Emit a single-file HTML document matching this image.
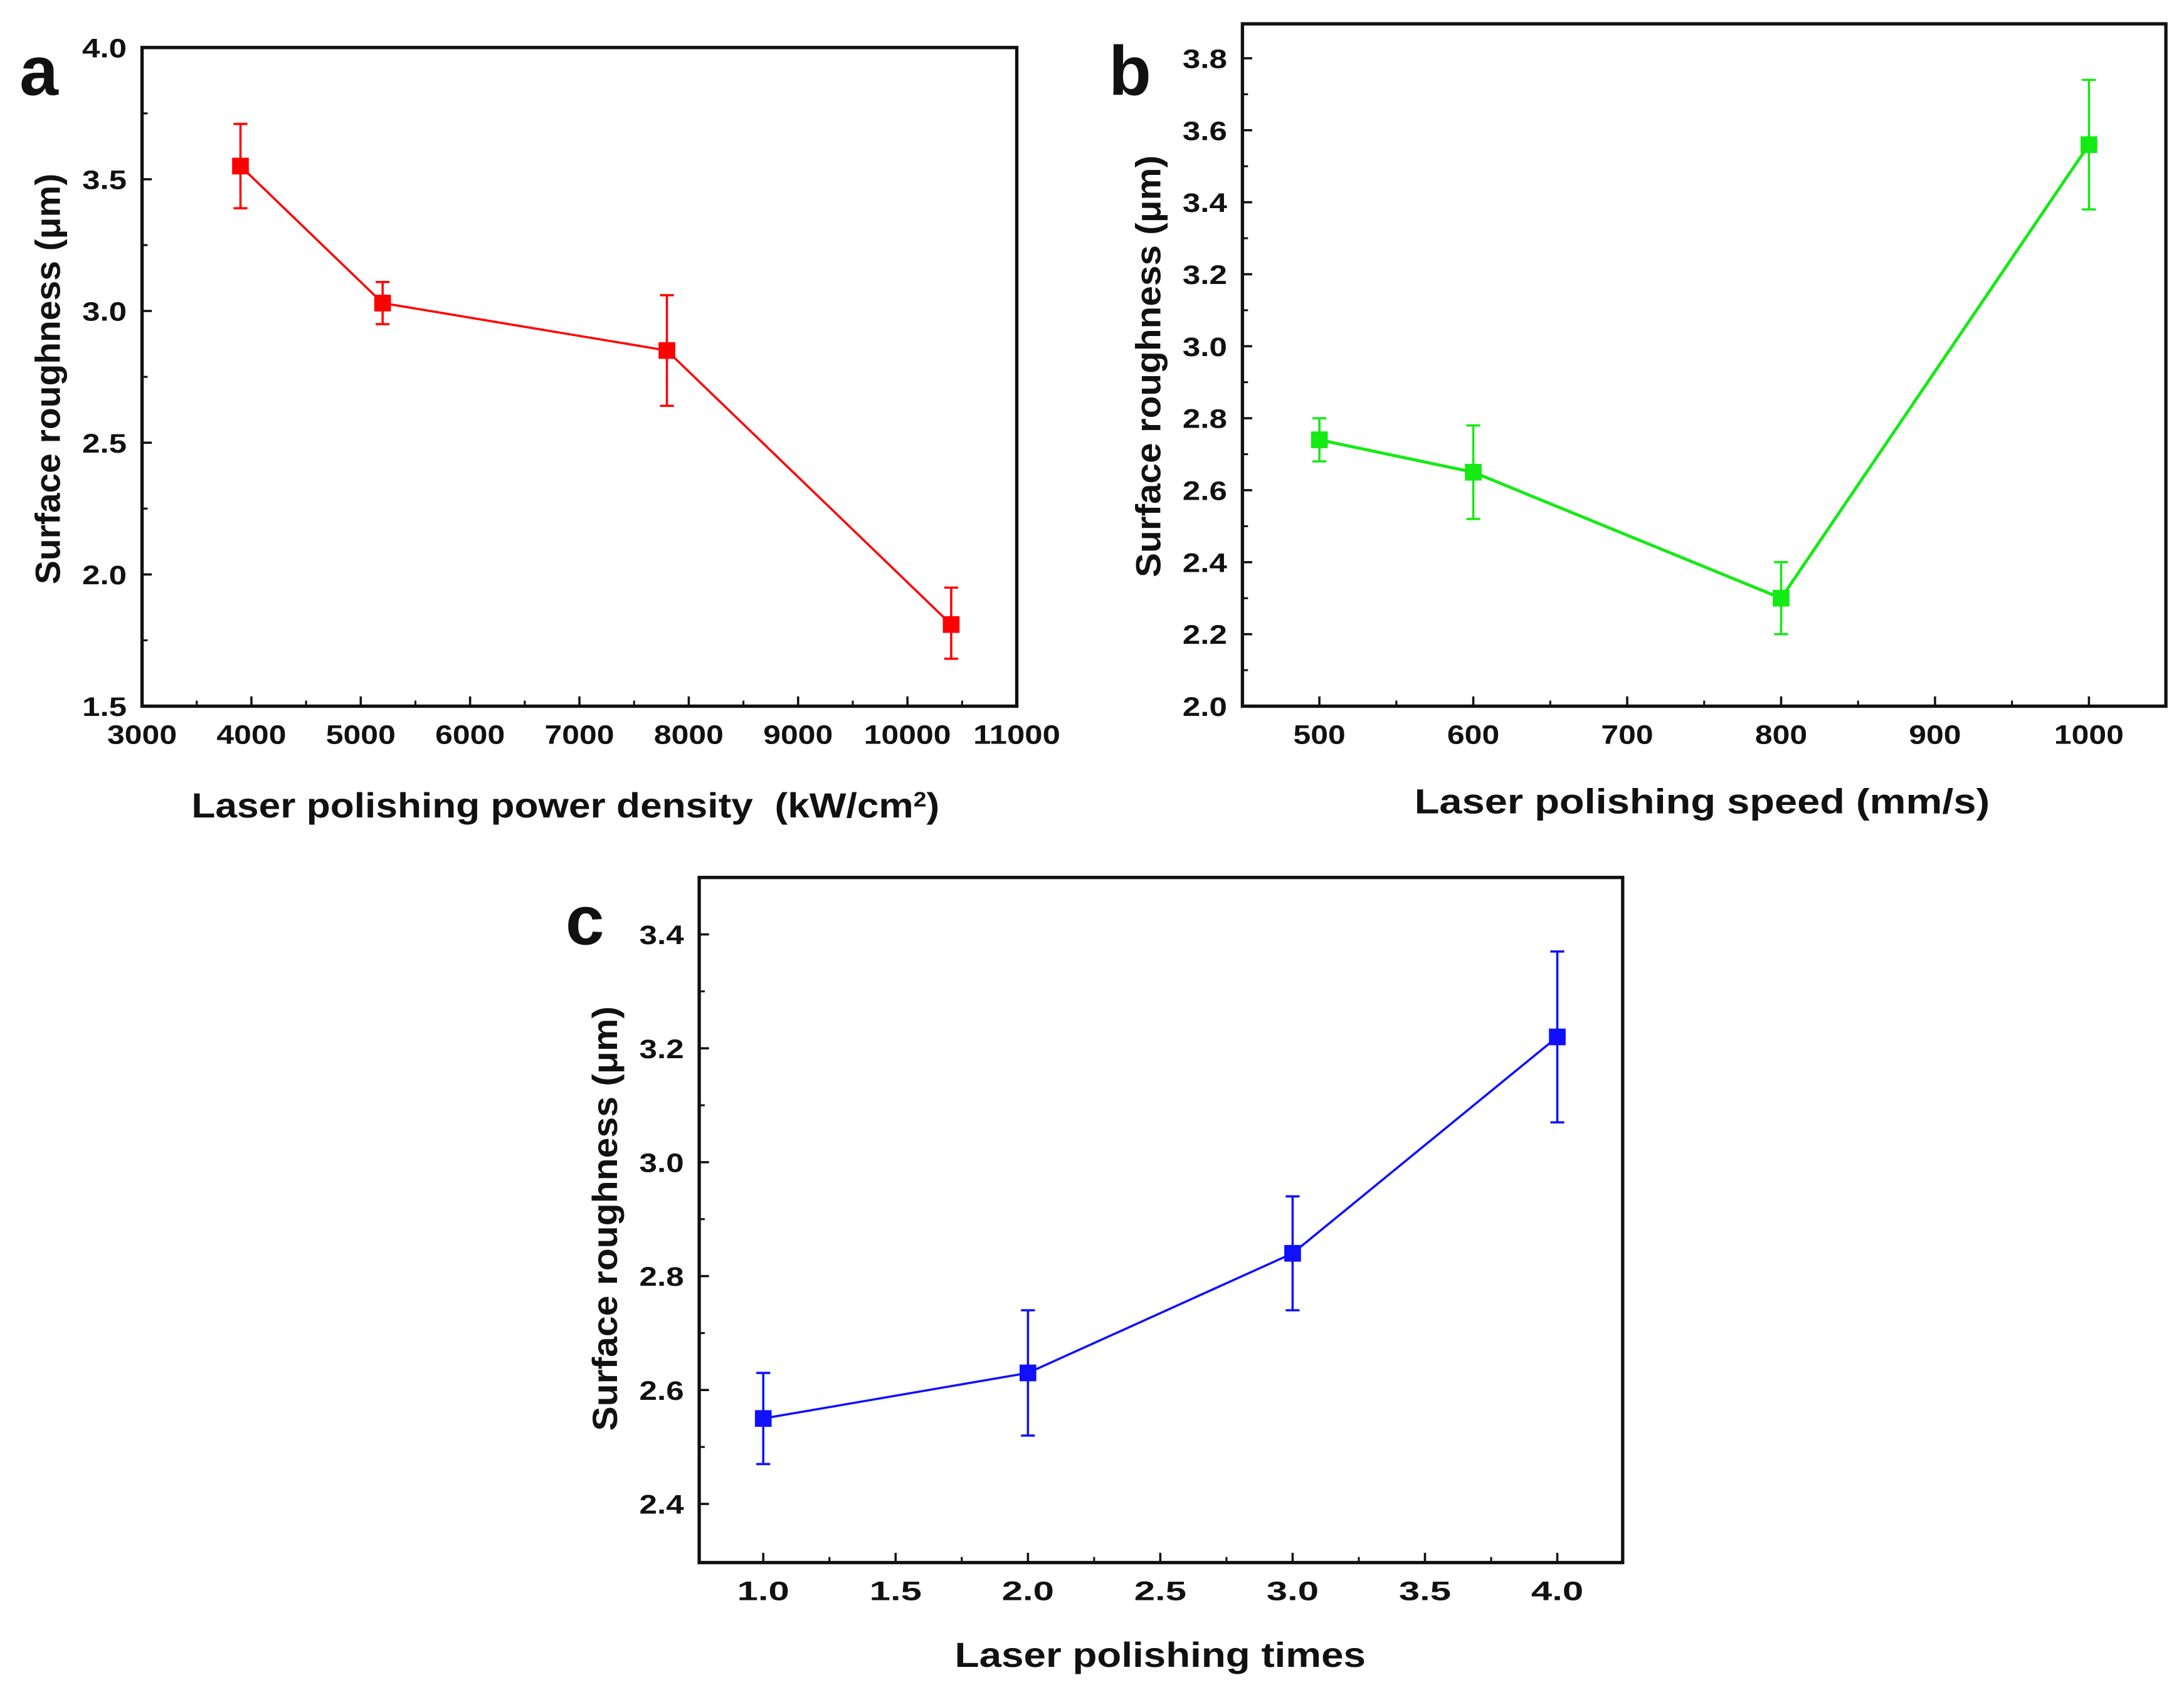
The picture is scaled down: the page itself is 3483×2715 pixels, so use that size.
<!DOCTYPE html>
<html><head><meta charset="utf-8"><style>
html,body{margin:0;padding:0;background:#fff;}
svg{display:block;}
text{font-family:"Liberation Sans","DejaVu Sans",sans-serif;font-weight:bold;fill:#111;}
</style></head><body>
<svg id="fig" width="3483" height="2715" viewBox="0 0 1568 1222" xmlns="http://www.w3.org/2000/svg"></svg>
<script>
// Panel a data
const aX = [3900, 5200, 7800, 10400];
const aY = [3.55, 3.03, 2.85, 1.81];
const aLo = [3.39, 2.95, 2.64, 1.68];
const aHi = [3.71, 3.11, 3.06, 1.95];
const aXTicks = [3000,4000,5000,6000,7000,8000,9000,10000,11000];
const aYTicks = [1.5,2.0,2.5,3.0,3.5,4.0];
// Panel b data
const bX = [500, 600, 800, 1000];
const bY = [2.74, 2.65, 2.30, 3.56];
const bLo = [2.68, 2.52, 2.20, 3.38];
const bHi = [2.80, 2.78, 2.40, 3.74];
const bXTicks = [500,600,700,800,900,1000];
const bYTicks = [2.0,2.2,2.4,2.6,2.8,3.0,3.2,3.4,3.6,3.8];
// Panel c data
const cX = [1, 2, 3, 4];
const cY = [2.55, 2.63, 2.84, 3.22];
const cLo = [2.47, 2.52, 2.74, 3.07];
const cHi = [2.63, 2.74, 2.94, 3.37];
const cXTicks = [1.0,1.5,2.0,2.5,3.0,3.5,4.0];
const cYTicks = [2.4,2.6,2.8,3.0,3.2,3.4];

const NS = "http://www.w3.org/2000/svg";
const svg = document.getElementById('fig');
function mk(tag, attrs, parent){
  const e = document.createElementNS(NS, tag);
  for (const k in attrs) e.setAttribute(k, attrs[k]);
  (parent||svg).appendChild(e);
  return e;
}
function panel(cfg){
  const g = mk('g', {});
  
  
  const sx = v => cfg.L + (v - cfg.x0) / (cfg.x1 - cfg.x0) * (cfg.R - cfg.L);
  const sy = v => cfg.B - (v - cfg.y0) / (cfg.y1 - cfg.y0) * (cfg.B - cfg.T);
  const box = mk('rect', {x:cfg.L, y:cfg.T, width:cfg.R-cfg.L, height:cfg.B-cfg.T, fill:'none', stroke:'#111', 'stroke-width':2.4}, g);
  
  
  cfg.xt.forEach((t,i) => {
    const x = sx(t);
    mk('line', {x1:x, x2:x, y1:cfg.B, y2:cfg.B-7, stroke:'#111', 'stroke-width':1.6}, g);
    if (i < cfg.xt.length-1) { const xm = sx((t + cfg.xt[i+1])/2); mk('line', {x1:xm, x2:xm, y1:cfg.B, y2:cfg.B-4, stroke:'#111', 'stroke-width':1.4}, g); }
    const s = cfg.xfmt(t);
    const tx = mk('text', {x:x, y:cfg.B+27, 'text-anchor':'middle', 'font-size':19, textLength:s.length*12.5, lengthAdjust:'spacingAndGlyphs'}, g);
    tx.textContent = s;
    
    
  });
  cfg.yt.forEach((t,i) => {
    const y = sy(t);
    mk('line', {x1:cfg.L, x2:cfg.L+7, y1:y, y2:y, stroke:'#111', 'stroke-width':1.6}, g);
    if (i < cfg.yt.length-1) { const ym = sy((t + cfg.yt[i+1])/2); mk('line', {x1:cfg.L, x2:cfg.L+4, y1:ym, y2:ym, stroke:'#111', 'stroke-width':1.4}, g); }
    const ty = mk('text', {x:cfg.L-11, y:y+7, 'text-anchor':'end', 'font-size':19, textLength:32, lengthAdjust:'spacingAndGlyphs'}, g);
    ty.textContent = t.toFixed(1);
    
    
  });
  const pts = cfg.xs.map((v,i) => sx(v)+','+sy(cfg.ys[i])).join(' ');
  const pl = mk('polyline', {points:pts, fill:'none', stroke:cfg.color, 'stroke-width':cfg.lw}, g);
  
  
  cfg.xs.forEach((v,i) => {
    const x = sx(v), yl = sy(cfg.lo[i]), yh = sy(cfg.hi[i]), y = sy(cfg.ys[i]);
    const eb = mk('g', {stroke:cfg.color, 'stroke-width':1.6}, g);
    
    
    mk('line', {x1:x, x2:x, y1:yl, y2:yh}, eb);
    mk('line', {x1:x-5, x2:x+5, y1:yl, y2:yl}, eb);
    mk('line', {x1:x-5, x2:x+5, y1:yh, y2:yh}, eb);
    const m = mk('rect', {x:x-6, y:y-6, width:12, height:12, fill:cfg.color}, g);
    
    
  });
  const xt = mk('text', {x:cfg.xtx, y:cfg.xty, 'text-anchor':'middle', 'font-size':25, textLength:cfg.xlen, lengthAdjust:'spacingAndGlyphs'}, g);
  xt.innerHTML = cfg.xtitle;
  
  
  const yt = mk('text', {x:0, y:0, 'text-anchor':'middle', 'font-size':25, textLength:cfg.ylen, lengthAdjust:'spacingAndGlyphs', transform:`translate(${cfg.ytx},${cfg.yty}) rotate(-90)`}, g);
  yt.textContent = 'Surface roughness (\u03bcm)';
  
  
  const lb = mk('text', {x:cfg.lx, y:cfg.ly, 'font-size':50}, g);
  lb.textContent = cfg.letter;
  
  
}
panel({name:'panel-a', L:102, R:730, T:34, B:507, x0:3000, x1:11000, y0:1.5, y1:4.0,
  xt:aXTicks, yt:aYTicks, xs:aX, ys:aY, lo:aLo, hi:aHi, color:'#ff0000', lw:1.6,
  xfmt:t=>String(t), xtitle:'Laser polishing power density\u00a0\u00a0(kW/cm<tspan dy="-8" font-size="15">2</tspan><tspan dy="8">)</tspan>',
  xlen:537, ylen:295,
  xtx:406, xty:587, ytx:43, yty:272, letter:'a', lx:14, ly:68});
panel({name:'panel-b', L:892, R:1555, T:17, B:507, x0:450, x1:1050, y0:2.0, y1:2.0+(507-17)/51.7*0.2,
  xt:bXTicks, yt:bYTicks, xs:bX, ys:bY, lo:bLo, hi:bHi, color:'#14ea14', lw:2.2,
  xfmt:t=>String(t), xtitle:'Laser polishing speed (mm/s)', xlen:413, ylen:303,
  xtx:1222, xty:584, ytx:833, yty:263, letter:'b', lx:796, ly:68});
panel({name:'panel-c', L:502, R:1165, T:630, B:1122, x0:0.758, x1:4.247, y0:2.297, y1:3.5,
  xt:cXTicks, yt:cYTicks, xs:cX, ys:cY, lo:cLo, hi:cHi, color:'#1010ff', lw:1.6,
  xfmt:t=>t.toFixed(1), xtitle:'Laser polishing times', xlen:295, ylen:305,
  xtx:833, xty:1197, ytx:443, yty:875, letter:'c', lx:406, ly:678});
</script>
</body></html>
